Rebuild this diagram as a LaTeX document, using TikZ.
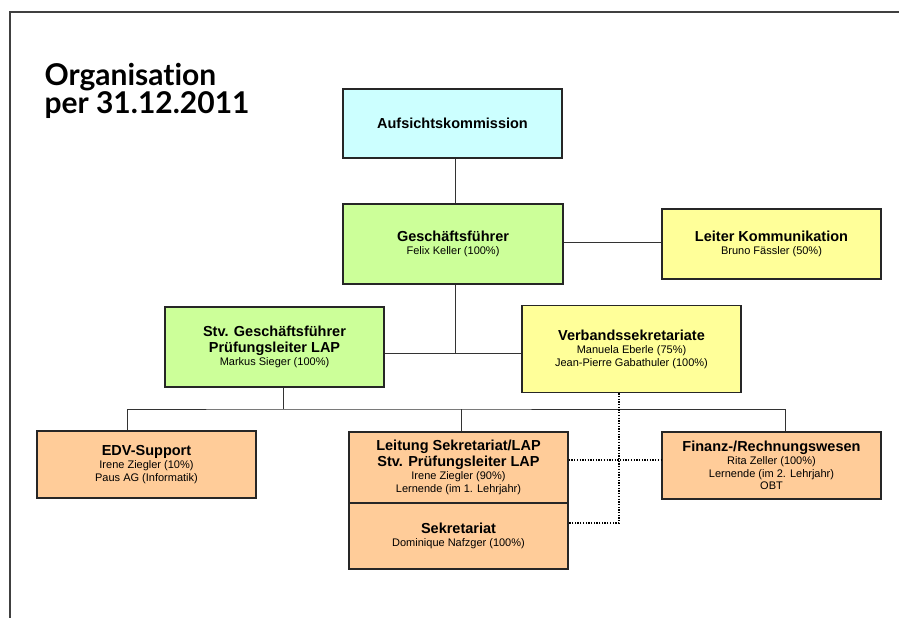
\documentclass[tikz,border=0pt]{standalone}
\usepackage{fontspec}
\setmainfont{Liberation Sans}
\newfontfamily\titlefont[Ligatures=NoCommon]{Lato}
\usepackage{tikz}
\usetikzlibrary{calc}
\usepackage{xcolor}
\definecolor{cyanbox}{HTML}{CCFFFF}
\definecolor{greenbox}{HTML}{CCFF99}
\definecolor{yellowbox}{HTML}{FFFF99}
\definecolor{orangebox}{HTML}{FFCC99}
\newcommand{\boxhead}[1]{{\fontsize{14.5}{16}\selectfont\bfseries #1}}

\begin{document}
\begin{tikzpicture}[
    x=1pt, y=-1pt,
    org box/.style={draw=black!85, line width=1.4pt, minimum width=219pt,
        inner sep=0pt, align=center, font=\fontsize{11}{12.5}\selectfont},
    frame line/.style={line width=1.2pt, black!75},
    solid link/.style={line width=0.8pt, black!80},
    dotted link/.style={line width=1.3pt, dash pattern=on 1.3pt off 1.4pt},
    title text/.style={anchor=base west, font=\titlefont\fontsize{30}{32}\selectfont\bfseries},
    every node/.style={color=black}
    ]
    \useasboundingbox (0,0) rectangle (899,618);
    % Frame
    \draw[frame line] (899,12) -- (10,12) -- (10,618);
    % Title
    \node[title text] (title1) at (41,85) {Organisation};
    \node[title text] (title2) at (41,113) {per 31.12.2011};
    % Boxes
    \node[org box, fill=cyanbox, minimum height=69pt] (auf) at (452.5,123.5)
        {\boxhead{Aufsichtskommission}};
    \node[org box, fill=greenbox, minimum width=220pt, minimum height=80pt] (gf) at (453,244)
        {\boxhead{Geschäftsführer}\\[1pt] Felix Keller (100\%)};
    \node[org box, fill=yellowbox, minimum height=70pt] (lk) at (771.5,244)
        {\boxhead{Leiter Kommunikation}\\[1pt] Bruno Fässler (50\%)};
    \node[org box, fill=greenbox, minimum height=80pt] (stv) at (274.5,347)
        {\boxhead{Stv. Geschäftsführer}\\[3pt] \boxhead{Prüfungsleiter LAP}\\[1pt]
        Markus Sieger (100\%)};
    \node[org box, fill=yellowbox, minimum height=87pt] (vs) at (631.5,349)
        {\boxhead{Verbandssekretariate}\\[1pt] Manuela Eberle (75\%)\\
        Jean-Pierre Gabathuler (100\%)};
    \node[org box, fill=orangebox, minimum height=67pt] (edv) at (146.5,464.5)
        {\boxhead{EDV-Support}\\[1pt] Irene Ziegler (10\%)\\ Paus AG (Informatik)};
    \node[org box, fill=orangebox, minimum height=71pt] (lt) at (458.5,467.5)
        {\boxhead{Leitung Sekretariat/LAP}\\[1pt] \boxhead{Stv. Prüfungsleiter LAP}\\[1pt]
        Irene Ziegler (90\%)\\ Lernende (im 1. Lehrjahr)};
    \node[org box, fill=orangebox, minimum height=66pt] (sk) at (458.5,536)
        {\boxhead{Sekretariat}\\[1pt] Dominique Nafzger (100\%)};
    \node[org box, fill=orangebox, minimum height=67pt] (fin) at (771.5,465.5)
        {\boxhead{Finanz-/Rechnungswesen}\\[1pt] Rita Zeller (100\%)\\
        Lernende (im 2. Lehrjahr)\\ OBT};
    % Lines
    \coordinate (mid) at (455,353);
    \coordinate (bus) at (283,409);
    \draw[solid link] ([xshift=2.5pt]auf.south) -- ([xshift=2pt]gf.north);
    \draw[solid link] ([yshift=2pt]gf.east) -- ([yshift=2pt]lk.west);
    \draw[solid link] ([xshift=2pt]gf.south) -- (mid);
    \draw[solid link] (stv.east |- mid) -- (vs.west |- mid);
    \draw[solid link] ([xshift=8.5pt]stv.south) -- (bus);
    \draw[solid link] ([xshift=-19.5pt]edv.north) |- (bus) -| ([xshift=13.5pt]fin.north);
    \draw[solid link] ([xshift=3pt]lt.north) -- ([xshift=3pt]lt.north |- bus);
    % Dotted links to the secretariat
    \draw[dotted link] ([yshift=7.5pt]lt.east) -- ([yshift=5.5pt]fin.west);
    \draw[dotted link] ([xshift=-12.5pt]vs.south) |- ([yshift=13pt]sk.east);
\end{tikzpicture}
\end{document}
